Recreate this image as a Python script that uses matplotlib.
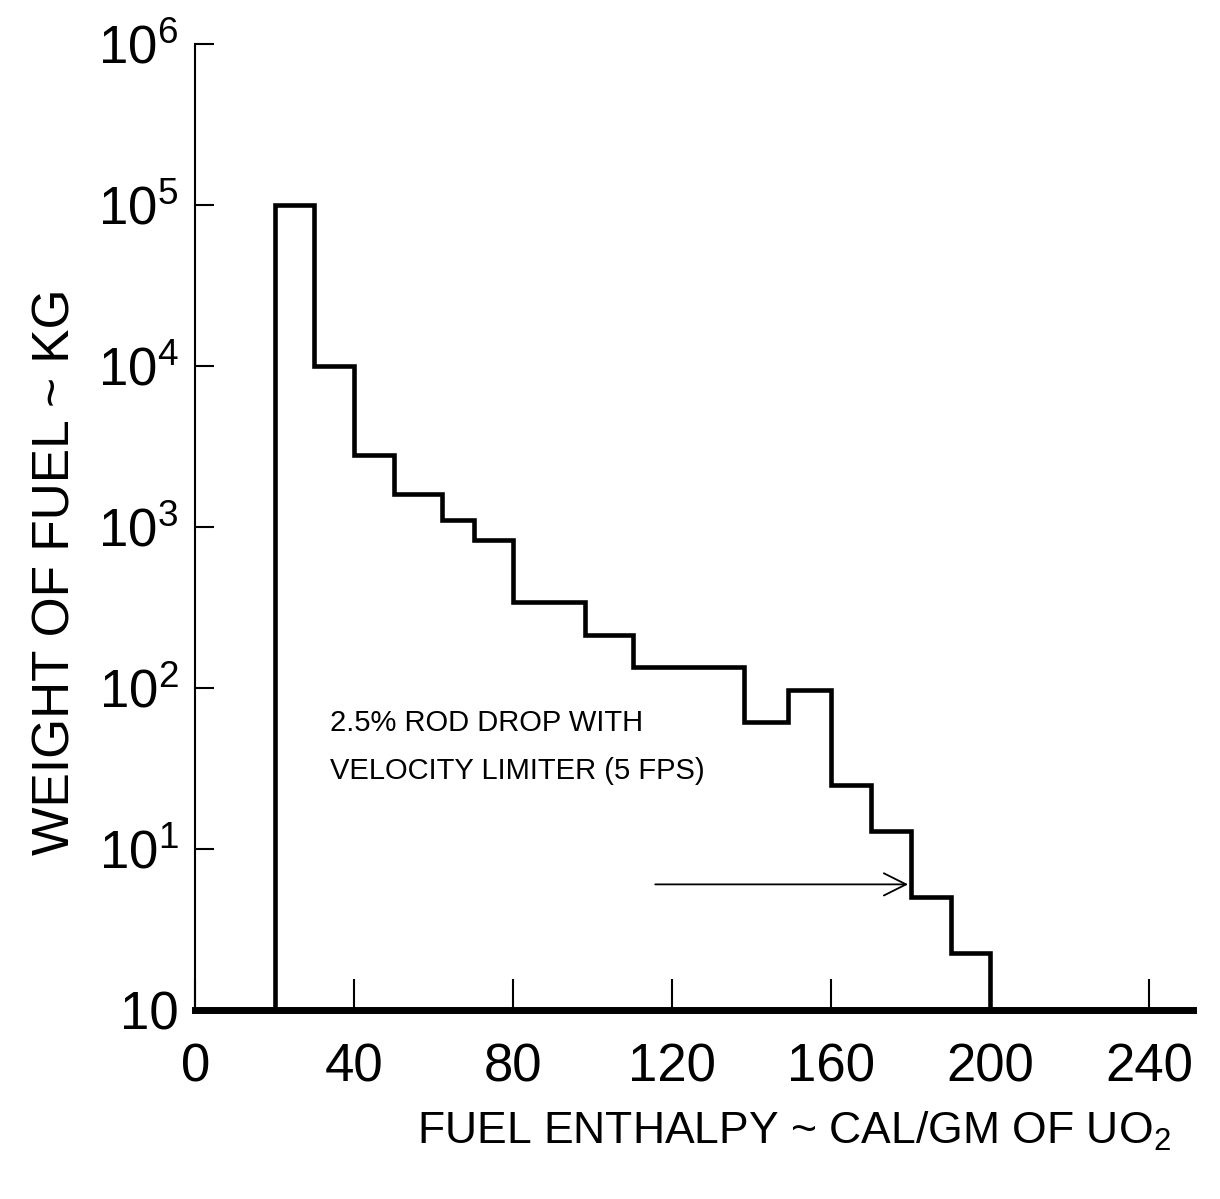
import numpy as np
import matplotlib
matplotlib.use('Agg')
import matplotlib.pyplot as plt
from matplotlib.ticker import NullLocator

# bin edges (cal/gm) and weight of fuel (kg)
edges = [20, 30, 40, 50, 62, 70, 80, 98, 110, 138, 149, 160, 170, 180, 190, 200]
weights = [1.0e5, 1.0e4, 2800, 1600, 1100, 830, 340, 213, 135, 61, 97, 25, 12.8, 5.0, 2.25]

x_ticks = [0, 40, 80, 120, 160, 200, 240]
y_ticks = [1, 10, 100, 1e3, 1e4, 1e5, 1e6]
y_labels = ['10', r'$10^1$', r'$10^2$', r'$10^3$', r'$10^4$', r'$10^5$', r'$10^6$']

note = "2.5% ROD DROP WITH\nVELOCITY LIMITER (5 FPS)"
arrow_from = (115, 6.0)
arrow_to = (180, 6.0)

plt.rcParams['font.family'] = ['Liberation Sans', 'DejaVu Sans']
plt.rcParams['mathtext.fontset'] = 'custom'
plt.rcParams['mathtext.rm'] = 'Liberation Sans'
plt.rcParams['mathtext.it'] = 'Liberation Sans'

fig = plt.figure(figsize=(12.2, 11.99), dpi=100)
ax = fig.add_axes([0.160, 0.158, 0.818, 0.805])

ax.stairs(weights, edges, baseline=1, color='black', lw=3.3)

ax.set_yscale('log')
ax.set_xlim(0, 251)
ax.set_ylim(1, 1e6)

ax.spines['top'].set_visible(False)
ax.spines['right'].set_visible(False)
ax.spines['bottom'].set_linewidth(5)
ax.spines['left'].set_linewidth(1.5)

ax.set_xticks(x_ticks)
ax.set_xticklabels([str(v) for v in x_ticks])
ax.set_yticks(y_ticks)
ax.set_yticklabels(y_labels)
ax.yaxis.set_minor_locator(NullLocator())
ax.tick_params(axis='x', direction='in', length=22, width=1.5, pad=24, labelsize=38)
ax.tick_params(axis='y', direction='in', length=14, width=1.5, pad=12, labelsize=38)

ax.text(34, 74, note, fontsize=21, va='top', ha='left', linespacing=1.9)
ax.annotate('', xy=arrow_to, xytext=arrow_from,
            arrowprops=dict(arrowstyle='->', lw=1.3, color='black', mutation_scale=40))

ax.set_xlabel(r'FUEL ENTHALPY ~ CAL/GM OF UO$_2$', fontsize=32)
ax.xaxis.set_label_coords(0.60, -0.104)
ax.set_ylabel('WEIGHT OF FUEL ~ KG', fontsize=37)
ax.yaxis.set_label_coords(-0.115, 0.454)

fig.savefig('out.png', dpi=100)
